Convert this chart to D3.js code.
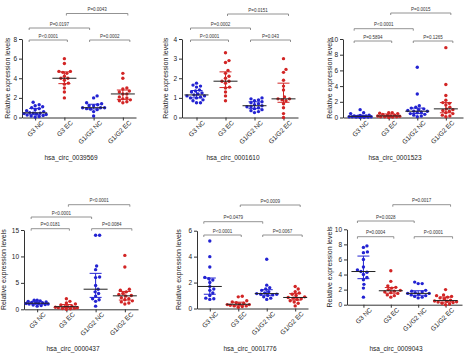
<!DOCTYPE html>
<html>
<head>
<meta charset="utf-8">
<script src="https://cdn.jsdelivr.net/npm/d3@7"></script>
<style>
  body { margin: 0; background: #fff; }
  svg { display: block; font-family: "Liberation Sans", Arial, sans-serif; }
</style>
</head>
<body>
<div id="chart"></div>
<script>
// groups on every panel
const categories = ["G3 NC", "G3 EC", "G1/G2 NC", "G1/G2 EC"];
const groupColors = ["#2323d2", "#d22525", "#2323d2", "#d22525"];

const titles = ["hsa_circ_0039569", "hsa_circ_0001610", "hsa_circ_0001523",
                "hsa_circ_0000437", "hsa_circ_0001776", "hsa_circ_0009043"];
const yMaxes = [8, 4, 10, 15, 6, 10];
const yTickSteps = [2, 1, 2, 5, 2, 2];

// relative expression values, one array per group
const circ0039569 = [
  [0.05, 0.1, 0.15, 0.2, 0.25, 0.3, 0.35, 0.4, 0.45, 0.45, 0.5, 0.6, 0.7, 0.8, 0.9, 1.0, 1.1, 1.2, 1.3, 1.55],
  [2.0, 2.6, 3.0, 3.4, 3.5, 3.8, 4.0, 4.0, 4.2, 4.5, 4.6, 4.7, 4.7, 5.5, 6.0],
  [0.15, 0.6, 0.8, 0.85, 0.9, 1.0, 1.0, 1.0, 1.2, 1.2, 1.3, 1.4, 1.5, 2.0, 2.2],
  [1.5, 1.6, 1.7, 1.8, 1.9, 2.0, 2.1, 2.4, 2.4, 2.6, 2.7, 2.9, 3.0, 4.0, 4.5]
];
const circ0001610 = [
  [0.75, 0.75, 0.85, 0.9, 1.0, 1.0, 1.05, 1.1, 1.1, 1.15, 1.2, 1.25, 1.3, 1.35, 1.4, 1.55, 1.6, 1.65, 1.75],
  [0.85, 1.1, 1.3, 1.5, 1.55, 1.75, 1.85, 1.85, 2.0, 2.1, 2.25, 2.4, 2.8, 2.9, 3.3],
  [0.25, 0.3, 0.35, 0.4, 0.45, 0.5, 0.55, 0.55, 0.6, 0.65, 0.7, 0.75, 0.8, 0.85, 0.9, 0.95, 1.0],
  [0.0, 0.2, 0.5, 0.7, 0.85, 0.9, 0.95, 0.95, 1.05, 1.4, 1.6, 1.9, 2.3, 2.45, 3.0]
];
const circ0001523 = [
  [0.0, 0.02, 0.05, 0.05, 0.1, 0.1, 0.1, 0.15, 0.15, 0.2, 0.2, 0.25, 0.3, 0.5, 0.6, 1.0],
  [0.0, 0.05, 0.1, 0.1, 0.1, 0.15, 0.2, 0.2, 0.25, 0.3, 0.4, 0.5, 0.55, 0.6, 0.6],
  [0.1, 0.2, 0.3, 0.4, 0.5, 0.6, 0.7, 0.8, 0.8, 0.9, 1.0, 1.1, 1.2, 1.3, 1.5, 3.0, 6.4],
  [0.1, 0.2, 0.3, 0.5, 0.6, 0.8, 0.9, 1.0, 1.1, 1.3, 1.6, 1.8, 1.9, 2.2, 2.8, 4.2, 8.9]
];
const circ0000437 = [
  [0.6, 0.7, 0.8, 0.9, 1.0, 1.0, 1.1, 1.1, 1.2, 1.2, 1.3, 1.4, 1.5, 1.6, 1.7, 1.7],
  [0.0, 0.1, 0.15, 0.2, 0.3, 0.3, 0.4, 0.5, 0.5, 0.6, 0.8, 1.0, 1.2, 1.5, 2.0],
  [0.6, 1.5, 1.8, 2.0, 2.5, 3.0, 3.3, 3.8, 4.5, 6.0, 6.1, 7.5, 8.2, 14.0, 14.0],
  [1.0, 1.2, 1.4, 1.6, 1.8, 2.0, 2.2, 2.5, 2.6, 2.8, 3.0, 3.3, 3.6, 3.8, 8.0, 10.2]
];
const circ0001776 = [
  [0.7, 0.75, 0.8, 1.0, 1.2, 1.4, 1.5, 1.7, 2.0, 2.2, 2.3, 2.4, 3.2, 4.0, 5.2],
  [0.1, 0.15, 0.2, 0.2, 0.25, 0.3, 0.3, 0.35, 0.4, 0.45, 0.5, 0.6, 0.9, 0.95],
  [0.7, 0.8, 0.9, 1.0, 1.05, 1.1, 1.1, 1.15, 1.2, 1.3, 1.4, 1.5, 1.6, 1.8, 3.8],
  [0.2, 0.4, 0.5, 0.6, 0.7, 0.75, 0.8, 0.85, 0.9, 1.0, 1.1, 1.2, 1.3, 1.5, 1.7]
];
const circ0009043 = [
  [1.0, 2.2, 2.7, 3.3, 3.6, 4.0, 4.3, 4.4, 4.6, 5.0, 6.0, 6.9, 7.0, 7.6, 7.8],
  [1.0, 1.2, 1.3, 1.5, 1.6, 1.7, 1.8, 1.9, 2.0, 2.2, 2.3, 2.5, 3.1, 4.5],
  [0.9, 1.0, 1.1, 1.2, 1.3, 1.4, 1.5, 1.5, 1.6, 1.7, 1.8, 1.9, 2.8, 2.8, 3.0],
  [0.0, 0.1, 0.2, 0.3, 0.35, 0.4, 0.45, 0.5, 0.6, 0.8, 0.9, 1.0, 1.1, 1.2, 1.3, 2.0]
];
const panelData = [circ0039569, circ0001610, circ0001523, circ0000437, circ0001776, circ0009043];

// comparisons: [group a, group b], and P labels per panel in the same order
const pairs = [[0, 1], [0, 2], [2, 3], [1, 3]];
const pTexts = [
  ["P<0.0001", "P=0.0197", "P=0.0002", "P=0.0043"],
  ["P<0.0001", "P=0.0002", "P=0.043", "P=0.0151"],
  ["P=0.5894", "P<0.0001", "P=0.1265", "P=0.0015"],
  ["P=0.0181", "P<0.0001", "P=0.0084", "P<0.0001"],
  ["P<0.0001", "P=0.0479", "P=0.0067", "P=0.0009"],
  ["P=0.0004", "P=0.0028", "P<0.0001", "P=0.0017"]
];

// layout of each panel in the 466x361 frame
const layout = [
  { x0: 22, x1: 136, yTop: 39, yBot: 117.5, pad: 0.45, labelX: 7, titleX: 71, titleY: 160, brY: [40, 28, 13.5] },
  { x0: 182, x1: 298, yTop: 39, yBot: 117.5, pad: 0.5, labelX: 165, titleX: 233, titleY: 160, brY: [40, 28, 14] },
  { x0: 343, x1: 463, yTop: 39, yBot: 117.5, pad: 0.6, labelX: 329, titleX: 395, titleY: 160, brY: [41, 28.7, 13] },
  { x0: 24, x1: 138, yTop: 230, yBot: 309.3, pad: 0.45, labelX: 3, titleX: 73, titleY: 351, brY: [228.7, 217, 204.7] },
  { x0: 197, x1: 308, yTop: 230.7, yBot: 308.5, pad: 0.45, labelX: 178, titleX: 250, titleY: 351, brY: [235, 221.7, 205] },
  { x0: 347, x1: 462, yTop: 229.3, yBot: 304.7, pad: 0.6, labelX: 329, titleX: 396, titleY: 351, brY: [236.7, 221, 204.7] }
];
const pairLevel = [0, 1, 0, 2];
const pairInset = [[-6, 3], [-6, -4], [-4, 7], [2, 5]];

const W = 466, H = 361;
const R = 1.7;
const MAX_SPREAD = 11;

const svg = d3.select("#chart").append("svg")
  .attr("width", W)
  .attr("height", H);

// beeswarm limited to a fixed width, like a prism scatter column
function swarm(values, y, r) {
  const pts = values.map(v => ({ v, py: y(v), dx: 0 }))
    .sort((a, b) => b.py - a.py);
  const placed = [];
  const dmin = 2 * r + 0.4;
  pts.forEach(p => {
    let best = 0, bestD = -1;
    for (let k = 0; ; k++) {
      const off = (k % 2 ? 1 : -1) * Math.ceil(k / 2) * 0.5;
      if (Math.abs(off) > MAX_SPREAD) break;
      let dMin = Infinity;
      placed.forEach(q => {
        const dy = q.py - p.py, dx = q.dx - off;
        dMin = Math.min(dMin, Math.sqrt(dx * dx + dy * dy));
      });
      if (dMin >= dmin) { best = off; break; }
      if (dMin > bestD) { bestD = dMin; best = off; }
    }
    p.dx = best;
    placed.push(p);
  });
  return pts;
}

panelData.forEach((groups, pi) => {
  const L = layout[pi];
  const g = svg.append("g");

  const x = d3.scalePoint()
    .domain(categories)
    .range([L.x0, L.x1])
    .padding(L.pad);

  const y = d3.scaleLinear()
    .domain([0, yMaxes[pi]])
    .range([L.yBot, L.yTop]);

  const ticks = d3.range(0, yMaxes[pi] + 0.001, yTickSteps[pi]);

  const yAxis = g.append("g")
    .attr("transform", `translate(${L.x0},0)`)
    .call(d3.axisLeft(y).tickValues(ticks).tickFormat(d3.format("d"))
      .tickSize(3).tickSizeOuter(0).tickPadding(2));
  yAxis.selectAll("text").style("font-size", "6.5px").attr("fill", "#222");
  yAxis.selectAll("path, line").attr("stroke", "#333");

  const xAxis = g.append("g")
    .attr("transform", `translate(0,${L.yBot})`)
    .call(d3.axisBottom(x).tickSize(3).tickSizeOuter(0));
  xAxis.selectAll("path, line").attr("stroke", "#333");
  xAxis.selectAll("text")
    .style("font-size", "6.5px")
    .attr("fill", "#222")
    .attr("text-anchor", "end")
    .attr("dx", "0.3em")
    .attr("dy", "0.6em")
    .attr("transform", "rotate(-45)");

  g.append("text")
    .attr("transform", `translate(${L.labelX + 3},${(L.yTop + L.yBot) / 2}) rotate(-90)`)
    .attr("text-anchor", "middle")
    .style("font-size", "7px")
    .attr("fill", "#222")
    .text("Relative expression levels");

  g.append("text")
    .attr("x", L.titleX)
    .attr("y", L.titleY)
    .attr("text-anchor", "middle")
    .style("font-size", "6.5px")
    .attr("fill", "#222")
    .text(titles[pi]);

  // dots
  groups.forEach((vals, gi) => {
    const cx = x(categories[gi]);
    const pts = swarm(vals, y, R);
    g.append("g").selectAll("circle")
      .data(pts)
      .join("circle")
      .attr("cx", d => cx + d.dx)
      .attr("cy", d => d.py)
      .attr("r", R)
      .attr("fill", groupColors[gi]);

    // median with interquartile range
    const s = vals.slice().sort(d3.ascending);
    const med = d3.quantile(s, 0.5);
    const q1 = d3.quantile(s, 0.25);
    const q3 = d3.quantile(s, 0.75);
    const eb = g.append("g").attr("stroke-width", 1);
    eb.append("line")
      .attr("x1", cx).attr("x2", cx)
      .attr("y1", y(q1)).attr("y2", y(q3))
      .attr("stroke", groupColors[gi]);
    [q1, q3].forEach(q => {
      eb.append("line")
        .attr("x1", cx - 6).attr("x2", cx + 6)
        .attr("y1", y(q)).attr("y2", y(q))
        .attr("stroke", groupColors[gi]);
    });
    eb.append("line")
      .attr("x1", cx - 12).attr("x2", cx + 12)
      .attr("y1", y(med)).attr("y2", y(med))
      .attr("stroke", "#222");
  });

  // significance brackets
  pairs.forEach((pr, k) => {
    const xa = x(categories[pr[0]]) + pairInset[k][0];
    const xb = x(categories[pr[1]]) + pairInset[k][1];
    const by = L.brY[pairLevel[k]];
    g.append("path")
      .attr("d", `M${xa},${by + 2}V${by}H${xb}V${by + 2}`)
      .attr("fill", "none")
      .attr("stroke", "#777")
      .attr("stroke-width", 0.8);
    g.append("text")
      .attr("x", (xa + xb) / 2)
      .attr("y", by - 2.5)
      .attr("text-anchor", "middle")
      .style("font-size", "4.5px")
      .attr("fill", "#333")
      .text(pTexts[pi][k]);
  });
});
</script>
</body>
</html>
